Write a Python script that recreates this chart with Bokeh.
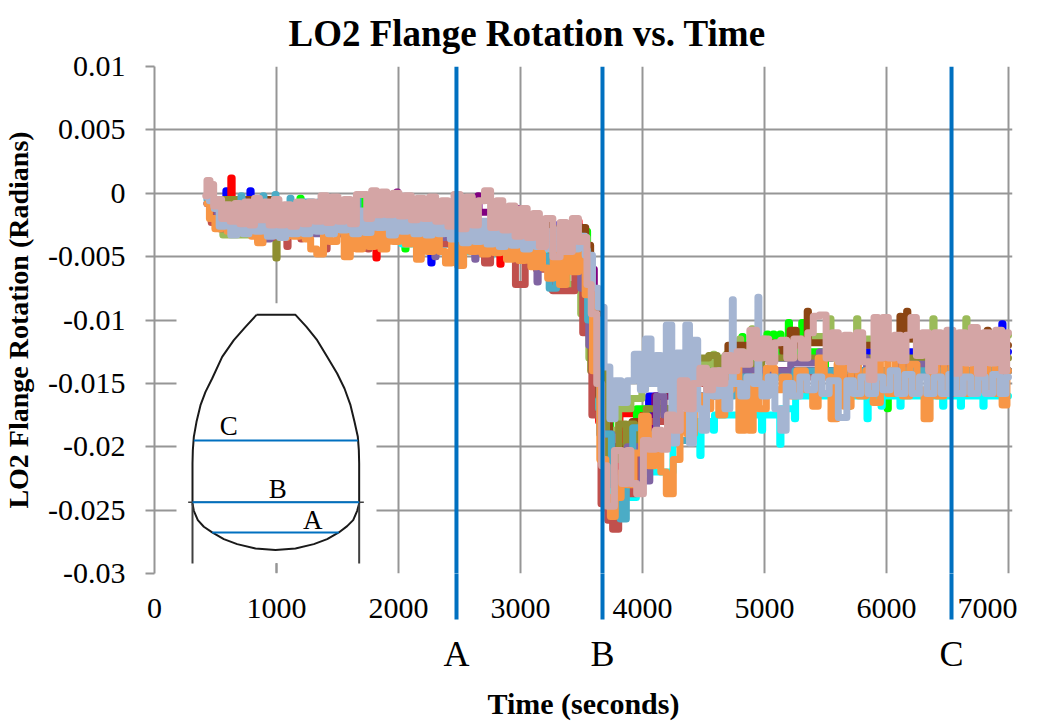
from bokeh.plotting import figure
from bokeh.embed import file_html
from bokeh.resources import INLINE
from bokeh.models import FixedTicker, Label, Title, Range1d, LinearAxis

# values: time in seconds, rotation in milliradians
t_blue = [450,580,590,600,777,787,797,1000,1300,1700,2000,2260,2270,2280,2600,3000,3400,3560,3620,3680,3760,3900,4200,4500,4900,5300,5800,6045,6055,6065,6500,6940,6950,6960,7000]
v_blue = [-0.5,-1.0,0.2,-1.0,-1.0,0.2,-1.0,-2.0,-2.5,-2.5,-3.0,-3.5,-5.5,-3.5,-3.0,-2.5,-2.5,-6.0,-11.0,-17.0,-22.0,-19.0,-16.0,-14.0,-13.0,-13.0,-12.5,-12.5,-11.3,-12.5,-12.5,-12.5,-10.3,-12.5,-12.5]
t_red = [450,620,631,642,900,1300,1700,1810,1820,1830,2300,2700,2826,2836,2846,3200,3252,3262,3272,3465,3475,3485,3600,3680,3760,3870,3885,3900,4100,4500,5000,5500,5680,5690,5700,6000,6500,7000]
v_red = [-0.5,-1.2,1.2,-1.5,-2.0,-2.5,-2.8,-3.0,-5.1,-3.0,-3.0,-3.5,-3.5,-5.6,-3.5,-4.0,-4.0,-7.6,-5.0,-3.0,-2.2,-3.0,-9.0,-18.0,-24.0,-17.4,-17.4,-17.4,-19.0,-15.0,-14.0,-14.0,-14.0,-16.8,-14.0,-14.0,-14.0,-14.0]
t_lime = [450,1000,1187,1197,1207,1703,1713,1723,2047,2057,2067,2470,2480,2490,3120,3130,3140,3500,3600,3680,3800,4100,4450,4460,4500,4810,4820,4830,5015,5025,5035,5065,5075,5085,5120,5130,5140,5190,5200,5210,5300,5310,5320,5680,5690,5700,6000,6010,6020,6500,7000]
v_lime = [-0.5,-1.5,-1.5,-0.4,-1.5,-1.5,-0.2,-2.0,-2.0,-4.4,-2.0,-1.5,-0.5,-2.5,-2.5,-1.9,-3.0,-3.0,-9.0,-16.0,-20.0,-17.0,-14.0,-13.3,-14.0,-13.0,-11.3,-13.0,-12.5,-11.1,-12.5,-12.5,-11.1,-12.5,-12.5,-11.1,-12.5,-12.5,-10.2,-12.5,-12.5,-10.2,-12.5,-14.0,-16.8,-14.0,-14.0,-17.0,-14.0,-14.0,-14.0]
t_plum = [450,900,1980,1990,2000,2400,2645,2655,2665,2935,2945,2990,3050,3060,3070,3375,3385,3395,3560,3650,3760,3900,4300,5000,6000,7000]
v_plum = [-0.5,-1.5,-1.5,0.1,-1.5,-1.5,-1.5,-0.2,-1.5,-1.5,-1.2,-1.2,-1.8,-1.8,-3.0,-3.0,-2.8,-3.0,-6.0,-14.0,-21.0,-21.0,-16.0,-14.0,-14.0,-14.0]
t_cyan = [450,1500,2556,2566,2576,2744,2754,2764,3300,3520,3560,3590,3620,3660,3700,3800,4100,4400,4465,4475,4485,4575,4585,4595,4900,4970,4980,4990,5120,5130,5140,5240,5250,5260,5300,5835,5845,5855,5950,5960,5970,6105,6115,6125,6455,6465,6475,6600,6610,6620,6785,6795,6805,7000]
v_cyan = [-1.0,-3.0,-4.0,-4.6,-4.0,-4.0,-5.0,-4.0,-4.5,-4.5,-8.0,-12.6,-15.0,-17.0,-20.0,-24.0,-22.0,-18.0,-18.0,-20.7,-18.0,-18.0,-18.7,-17.5,-17.5,-17.5,-18.7,-17.5,-17.5,-19.8,-17.0,-17.0,-17.8,-16.0,-16.0,-16.0,-17.8,-16.0,-16.0,-16.8,-16.0,-16.0,-16.8,-16.0,-16.0,-16.8,-16.0,-16.0,-16.8,-16.0,-16.0,-16.8,-16.0,-16.0]
t_sage = [440,520,600,1000,1500,2000,2500,3000,3300,3467,3520,3600,3700,3760,3850,3960,4030,4100,4230,4300,4400,4575,4585,4595,4680,4690,4700,4790,4800,4810,4890,4900,4910,5100,5300,5530,5540,5550,5750,5760,5770,6000,6375,6385,6395,6645,6655,6665,6900,7000]
v_sage = [-0.5,-0.8,-3.3,-2.5,-3.0,-3.0,-3.0,-4.0,-5.0,-7.2,-9.5,-13.0,-17.0,-18.7,-17.0,-16.2,-14.0,-15.0,-15.2,-14.5,-14.0,-13.5,-12.7,-13.5,-13.5,-12.7,-13.0,-12.5,-11.5,-12.5,-12.5,-10.7,-11.5,-12.0,-11.5,-11.3,-9.9,-11.5,-11.5,-9.9,-11.5,-11.5,-11.5,-9.9,-11.5,-11.5,-9.9,-11.5,-11.2,-11.2]
t_brown = [450,1500,3000,3450,3520,3550,3600,3680,3780,3880,3950,4400,5000,5060,5110,5190,5230,5290,5345,5355,5365,5800,6105,6115,6125,6160,6170,6180,6500,6820,6830,6840,7000]
v_brown = [-0.5,-2.0,-2.5,-2.8,-2.7,-4.1,-9.0,-16.0,-20.0,-20.0,-18.0,-15.0,-12.0,-11.8,-12.0,-12.5,-10.8,-12.0,-12.0,-9.3,-11.8,-12.0,-12.0,-9.7,-11.0,-11.0,-9.3,-11.5,-12.0,-12.0,-10.8,-12.0,-12.0]
t_olive = [450,990,1000,1010,2000,3000,3500,3650,3760,3850,3880,3910,3960,4100,4400,4500,4585,4640,4690,4750,5200,6000,7000]
v_olive = [-0.5,-2.5,-5.1,-2.5,-3.0,-3.5,-5.0,-14.0,-21.0,-18.2,-19.8,-18.2,-20.0,-17.0,-14.0,-13.0,-12.8,-13.8,-13.0,-13.5,-13.0,-13.0,-13.0]
t_brick = [430,500,560,640,695,705,715,850,940,1000,1080,1090,1100,1195,1205,1215,1400,1410,1420,1600,1744,1754,1764,2000,2200,2500,2680,2730,2780,2900,3017,3060,3200,3330,3370,3420,3470,3550,3620,3700,3730,3780,3830,3870,3918,3970,4100,4400,5000,6060,6070,6080,7000]
v_brick = [-0.8,-2.3,-2.8,-2.0,-3.0,-3.0,-2.2,-2.5,-3.5,-2.8,-3.0,-4.2,-3.0,-3.0,-3.6,-3.0,-3.0,-4.4,-3.2,-3.2,-3.2,-4.4,-3.2,-3.2,-3.5,-4.0,-4.0,-5.5,-4.5,-4.5,-7.2,-5.5,-6.0,-7.7,-7.7,-7.7,-5.5,-11.0,-17.5,-24.5,-25.8,-26.5,-24.0,-21.0,-23.7,-21.0,-18.0,-15.0,-14.5,-14.5,-15.7,-14.0,-14.0]
t_violet = [430,600,650,720,820,870,925,970,1400,2000,2293,2303,2313,2620,2630,2640,3000,3130,3140,3150,3457,3467,3520,3600,3700,3800,3950,4040,4080,4150,4200,4600,5000,5430,5470,5730,5770,5900,6300,6700,7000]
v_violet = [-0.8,-2.7,-2.0,-2.2,-3.0,-2.2,-3.6,-2.6,-3.2,-3.2,-3.5,-5.0,-3.5,-3.8,-5.2,-3.8,-4.5,-5.0,-7.0,-5.0,-5.0,-6.0,-7.5,-12.0,-19.0,-22.5,-20.0,-22.7,-20.0,-16.0,-17.5,-14.5,-14.0,-13.4,-12.5,-11.3,-13.0,-15.0,-13.5,-15.0,-14.0]
t_teal = [430,650,705,713,721,885,893,901,984,992,1000,1107,1115,1123,1280,1320,1360,1420,1656,1664,1672,2000,2400,2800,3200,3270,3320,3500,3600,3700,3790,3845,3890,3950,4100,4300,4500,5000,5500,6000,6500,6885,6893,6901,7000]
v_teal = [-0.5,-1.2,-1.2,-0.2,-1.2,-1.2,-0.2,-1.2,-1.2,-0.1,-1.2,-1.2,-0.4,-1.3,-0.7,-1.3,-0.7,-1.5,-1.5,-0.2,-1.5,-1.5,-2.5,-3.5,-5.0,-7.5,-5.0,-4.5,-10.0,-19.0,-23.0,-25.7,-22.0,-18.5,-19.0,-19.5,-16.0,-14.5,-14.0,-14.0,-14.0,-14.0,-11.7,-14.0,-14.0]
t_orange = [430,470,520,570,620,670,720,770,820,869,910,960,1010,1060,1110,1160,1210,1260,1300,1360,1410,1460,1530,1580,1630,1680,1730,1780,1830,1880,1930,1980,2030,2080,2130,2164,2210,2260,2310,2360,2410,2460,2508,2560,2610,2660,2710,2760,2810,2860,2910,2960,3010,3060,3110,3160,3200,3245,3290,3350,3400,3450,3500,3560,3620,3680,3720,3754,3800,3850,3900,3960,4025,4070,4130,4170,4220,4285,4330,4400,4450,4520,4600,4650,4700,4760,4820,4860,4885,4930,4980,5050,5120,5170,5230,5300,5370,5420,5460,5520,5570,5620,5680,5740,5800,5860,5920,5980,6040,6100,6160,6220,6280,6335,6380,6440,6500,6560,6620,6680,6740,6800,6860,6920,6975,7000]
v_orange = [-0.8,-2.0,-2.8,-2.2,-3.0,-2.4,-3.1,-2.7,-3.4,-3.9,-2.6,-3.2,-2.5,-3.5,-2.7,-3.4,-2.6,-3.6,-4.4,-4.8,-2.8,-3.8,-3.0,-5.0,-3.2,-4.4,-3.0,-4.2,-2.7,-4.4,-2.9,-3.8,-2.6,-4.0,-2.8,-5.2,-3.0,-4.6,-3.2,-4.6,-5.5,-3.2,-5.7,-3.5,-4.6,-3.0,-4.8,-3.0,-4.7,-3.2,-5.2,-3.2,-5.3,-3.4,-5.8,-3.8,-5.9,-6.7,-4.5,-7.2,-4.6,-6.2,-4.0,-8.0,-14.0,-21.0,-24.0,-25.5,-24.0,-22.0,-23.0,-20.5,-17.6,-21.5,-19.0,-22.0,-23.7,-21.0,-17.5,-19.0,-16.0,-17.0,-14.5,-17.5,-15.5,-13.5,-18.7,-15.0,-18.7,-14.5,-17.0,-13.8,-15.5,-14.5,-16.0,-14.0,-15.5,-16.8,-13.0,-14.5,-17.8,-13.5,-16.8,-13.5,-16.0,-14.0,-16.5,-13.0,-15.8,-13.0,-16.0,-13.5,-15.5,-17.8,-13.0,-16.0,-13.2,-15.8,-13.5,-15.8,-13.5,-15.5,-13.0,-15.8,-16.7,-14.0]
t_mist = [430,470,510,550,600,650,700,750,800,850,900,950,1000,1050,1100,1150,1200,1250,1300,1350,1400,1450,1500,1550,1600,1650,1700,1750,1800,1850,1900,1950,2000,2050,2100,2150,2200,2250,2300,2350,2400,2450,2500,2550,2600,2650,2700,2750,2800,2850,2900,2950,3000,3050,3100,3150,3200,3250,3300,3350,3400,3450,3500,3560,3620,3655,3715,3750,3800,3850,3900,3965,4000,4050,4090,4130,4170,4220,4260,4300,4340,4370,4400,4435,4470,4500,4550,4600,4650,4700,4732,4740,4748,4780,4830,4880,4942,4950,4958,5000,5060,5110,5155,5200,5260,5320,5380,5440,5500,5560,5650,5700,5760,5820,5880,5940,6000,6060,6120,6180,6240,6300,6360,6420,6480,6540,6600,6660,6720,6780,6840,6900,6960,7000]
v_mist = [-0.3,-0.6,-1.2,-2.6,-1.4,-3.3,-1.7,-3.2,-1.6,-3.0,-1.6,-3.4,-1.9,-3.5,-1.9,-3.2,-1.6,-3.2,-1.9,-3.0,-1.6,-3.2,-1.8,-2.9,-1.6,-3.2,-1.4,-3.1,-1.6,-2.7,-1.6,-3.3,-1.6,-3.0,-1.9,-3.2,-1.7,-3.3,-1.9,-3.2,-1.9,-3.6,-1.6,-3.9,-1.9,-3.8,-2.2,-4.0,-2.2,-4.2,-2.4,-4.1,-2.6,-4.4,-2.6,-4.2,-3.0,-4.4,-2.9,-4.6,-3.4,-4.4,-3.4,-4.9,-7.5,-9.0,-13.7,-17.8,-14.8,-16.5,-14.8,-12.7,-15.5,-11.5,-15.0,-12.8,-15.5,-10.4,-19.7,-12.6,-15.5,-10.4,-19.7,-11.6,-17.0,-18.7,-14.5,-16.0,-14.0,-17.0,-15.0,-8.4,-15.0,-15.0,-16.0,-14.5,-15.0,-8.2,-15.0,-16.0,-14.5,-17.0,-18.7,-15.0,-16.0,-14.5,-15.5,-14.5,-15.8,-14.8,-17.7,-14.8,-15.8,-14.5,-15.8,-14.5,-15.5,-14.0,-15.8,-14.3,-15.8,-14.5,-15.8,-14.5,-15.8,-14.3,-15.8,-14.5,-15.8,-14.5,-15.8,-14.3,-15.8,-14.5]
t_rose = [420,440,470,500,530,570,600,640,680,720,760,800,840,880,920,960,1000,1040,1090,1140,1190,1240,1290,1340,1390,1430,1480,1530,1580,1630,1680,1720,1760,1800,1840,1880,1930,1980,2030,2080,2130,2180,2230,2280,2330,2380,2430,2480,2530,2580,2630,2680,2730,2780,2830,2880,2930,2980,3030,3080,3130,3180,3230,3300,3350,3400,3450,3500,3530,3560,3600,3650,3680,3740,3800,3860,3890,3920,3985,4030,4080,4130,4180,4230,4280,4340,4390,4440,4500,4550,4600,4650,4700,4750,4800,4850,4910,4960,5010,5060,5110,5155,5210,5270,5330,5380,5420,5480,5530,5580,5630,5680,5730,5780,5830,5885,5910,5950,5990,6040,6090,6140,6180,6220,6270,6320,6370,6420,6470,6520,6570,6620,6670,6720,6770,6820,6870,6920,6970,7000]
v_rose = [-0.2,1.0,0.7,-1.0,-0.5,-2.0,-0.9,-2.2,-0.8,-2.4,-0.7,-2.5,-0.4,-2.1,-0.7,-2.5,-0.5,-2.5,-0.9,-2.6,-0.7,-2.4,-0.7,-2.2,-0.2,-2.3,-0.3,-2.2,-0.5,-2.4,-0.1,-0.1,-2.0,0.2,-1.7,0.1,-1.7,0.0,-1.8,-0.2,-2.1,-0.4,-2.0,-0.3,-2.2,-0.6,-2.6,-0.1,-2.8,-0.3,-2.5,-0.6,0.2,-2.7,-0.6,-2.9,-1.0,-3.4,-1.2,-3.5,-1.6,-4.2,-2.0,-5.0,-2.3,-4.6,-2.0,-3.8,-3.5,-7.2,-9.5,-15.0,-21.5,-24.7,-20.3,-22.9,-20.3,-22.9,-23.7,-19.5,-20.2,-18.7,-20.2,-17.5,-18.7,-14.8,-17.0,-15.0,-13.8,-15.5,-14.0,-15.0,-12.8,-14.0,-12.5,-13.5,-10.8,-13.0,-11.5,-13.3,-11.8,-11.6,-13.0,-11.5,-13.0,-11.0,-9.7,-9.6,-13.0,-11.0,-13.3,-11.2,-13.9,-11.0,-13.3,-14.7,-9.8,-13.0,-9.8,-13.0,-11.2,-13.2,-11.2,-9.8,-12.8,-11.0,-14.0,-11.0,-13.3,-10.8,-14.2,-11.0,-13.4,-10.6,-14.2,-11.0,-13.4,-10.8,-14.0,-11.0]

series = [
    (t_blue, v_blue, "#0000ff"), (t_red, v_red, "#ff0000"), (t_lime, v_lime, "#00ff00"),
    (t_plum, v_plum, "#800080"), (t_cyan, v_cyan, "#00ffff"), (t_sage, v_sage, "#9bbb59"),
    (t_brown, v_brown, "#8b4513"), (t_olive, v_olive, "#8e8e30"), (t_brick, v_brick, "#c0504d"),
    (t_violet, v_violet, "#8064a2"), (t_teal, v_teal, "#4bacc6"), (t_orange, v_orange, "#f79646"),
    (t_mist, v_mist, "#a5b5d2"), (t_rose, v_rose, "#d4a5a5"),
]
for t, v, c in series:
    assert len(t) == len(v), (c, len(t), len(v))

x_ticks = [0, 1000, 2000, 3000, 4000, 5000, 6000, 7000]
y_ticks = [0.01, 0.005, 0, -0.005, -0.01, -0.015, -0.02, -0.025, -0.03]
y_tick_labels = ["0.01", "0.005", "0", "-0.005", "-0.01", "-0.015", "-0.02", "-0.025", "-0.03"]
section_times = [2475, 3672, 6533]
section_names = ["A", "B", "C"]

SERIF = "Liberation Serif"
GRID = "#969696"

p = figure(width=1029, height=707, output_backend="svg", toolbar_location=None,
           x_range=Range1d(0, 7032.8), y_range=Range1d(-0.03, 0.01),
           frame_width=858, frame_height=507,
           background_fill_color="white", border_fill_color="white")
p.outline_line_color = None

p.add_layout(Title(text="LO2 Flange Rotation vs. Time", text_font=SERIF, text_font_size="37px",
                   text_font_style="bold", text_color="black", text_line_height=0.75,
                   align="left", vertical_align="middle", offset=134, standoff=23), "above")

xa = p.xaxis[0]
xa.ticker = FixedTicker(ticks=x_ticks)
xa.axis_line_color = None
xa.major_tick_line_color = None
xa.minor_tick_line_color = None
xa.major_label_text_font = SERIF
xa.major_label_text_font_size = "30px"
xa.major_label_text_color = "black"
xa.major_label_standoff = 19

# second axis below: the section letters, and the blue lines' run below the frame
xb = LinearAxis(ticker=FixedTicker(ticks=section_times),
                major_label_overrides=dict(zip(section_times, section_names)))
xb.axis_line_color = None
xb.minor_tick_line_color = None
xb.major_tick_line_color = "#0070c0"
xb.major_tick_line_width = 4
xb.major_tick_in = 47
xb.major_tick_out = -1
xb.major_label_text_font = SERIF
xb.major_label_text_font_size = "36px"
xb.major_label_text_color = "black"
xb.major_label_standoff = 13
xb.axis_label = "Time (seconds)"
xb.axis_label_text_font = SERIF
xb.axis_label_text_font_size = "30px"
xb.axis_label_text_font_style = "bold"
xb.axis_label_text_color = "black"
xb.axis_label_text_line_height = 0.8
xb.axis_label_standoff = 10
p.add_layout(xb, "below")

ya = p.yaxis[0]
ya.ticker = FixedTicker(ticks=y_ticks)
ya.major_label_overrides = dict(zip(y_ticks, y_tick_labels))
ya.axis_line_color = GRID
ya.axis_line_width = 2
ya.major_tick_line_color = GRID
ya.major_tick_line_width = 2
ya.major_tick_in = 0
ya.major_tick_out = 9
ya.minor_tick_line_color = None
ya.major_label_text_font = SERIF
ya.major_label_text_font_size = "30px"
ya.major_label_text_color = "black"
ya.major_label_standoff = 20
ya.axis_label = "LO2 Flange Rotation (Radians)"
ya.axis_label_text_font = SERIF
ya.axis_label_text_font_size = "28px"
ya.axis_label_text_font_style = "bold"
ya.axis_label_text_color = "black"
ya.axis_label_standoff = 11

p.xgrid[0].ticker = FixedTicker(ticks=x_ticks)
p.ygrid[0].ticker = FixedTicker(ticks=y_ticks)
for g in (p.xgrid[0], p.ygrid[0]):
    g.grid_line_color = GRID
    g.grid_line_width = 2


def tx(px):
    return (px - 154) / 0.122


def ty(py):
    return (193 - py) / 12.68 / 1000


def zx(v):
    return tx(150 + v / 3)


def zy(v):
    return ty(290 + v / 3)


p.quad(left=[tx(176)], right=[tx(376)], top=[ty(303)], bottom=[ty(563)],
       fill_color="white", line_color=None)

for t, v, c in series:
    p.step(t, [a / 1000 for a in v], mode="center", line_color=c, line_width=7,
           line_cap="round", line_join="round")

p.segment(x0=section_times, y0=[-0.03] * 3, x1=section_times, y1=[0.01] * 3,
          line_color="#0070c0", line_width=4)

outline_x = [318,285,250,215,185,165,150,138,130,127,126,126,130,142,160,185,220,260,315,375,435,490,530,565,590,608,620,626,626,625,622,612,600,582,560,530,500,468,435,318]
outline_y = [74,110,150,200,265,305,345,395,440,480,520,640,662,690,710,727,747,762,775,780,775,762,747,727,708,690,662,640,520,480,440,395,345,295,250,200,150,110,74,74]
p.line([zx(a) for a in outline_x], [zy(a) for a in outline_y], line_color="#1a1a1a", line_width=2)
for xs, ys, c, w in [
    ([126, 126], [640, 820], "#404040", 2),
    ([626, 626], [640, 820], "#404040", 2),
    ([378, 378], [820, 848], GRID, 2),
    ([113, 640], [636, 636], "#404040", 1.5),
    ([130, 622], [451, 451], "#0070c0", 2),
    ([126, 626], [636, 636], "#0070c0", 2),
    ([185, 565], [727, 727], "#0070c0", 2),
]:
    p.line([zx(a) for a in xs], [zy(a) for a in ys], line_color=c, line_width=w)

for name, cx, cy in [("C", 235, 408), ("B", 382, 596), ("A", 487, 690)]:
    p.add_layout(Label(x=zx(cx), y=zy(cy), text=name, text_font=SERIF, text_font_size="27px",
                       text_align="center", text_baseline="middle", text_color="black"))

open("out.html", "w").write(file_html(p, INLINE))
